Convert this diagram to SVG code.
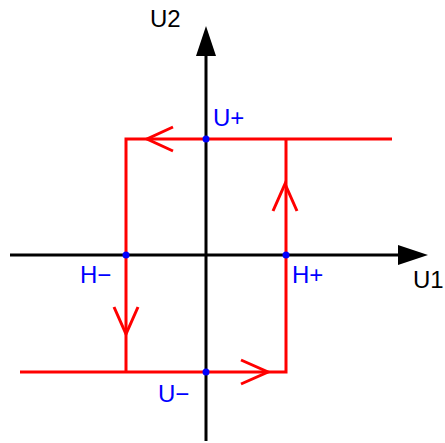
<svg xmlns="http://www.w3.org/2000/svg" width="445" height="443" viewBox="0 0 445 443">
<style>
.ax{stroke:#000;stroke-width:3;fill:none}
.rd{stroke:#ff0000;stroke-width:3;fill:none}
.lb{font-family:"Liberation Sans",Arial,sans-serif;font-size:24px}
.bl{fill:#0000ff}
.bk{fill:#000}
</style>
<rect width="445" height="443" fill="#fff"/>
<g id="connectors">
<line class="ax" x1="10" y1="255" x2="400" y2="255"/>
<polygon points="428,255 398,245 398,265" fill="#000"/>
<line class="ax" x1="206" y1="441" x2="206" y2="54"/>
<polygon points="206,26 196,56 216,56" fill="#000"/>
<polyline class="rd" points="392,139 126,139 126,372"/>
<polyline class="rd" points="20,372 286,372 286,139"/>
<polyline class="rd" points="173,127 147,139 173,151"/>
<polyline class="rd" points="241,360 268,372 241,384"/>
<polyline class="rd" points="273,211 285,184 297,211"/>
<polyline class="rd" points="114,307 126,334 138,307"/>
</g>
<g id="node-Uplus"><circle cx="206" cy="139" r="3.5" class="bl"/><text class="lb bl" x="213" y="126">U+</text></g>
<g id="node-Uminus"><circle cx="206" cy="372" r="3.5" class="bl"/><text class="lb bl" x="158" y="402">U−</text></g>
<g id="node-Hminus"><circle cx="126" cy="255" r="3.5" class="bl"/><text class="lb bl" x="80" y="283">H−</text></g>
<g id="node-Hplus"><circle cx="286" cy="255" r="3.5" class="bl"/><text class="lb bl" x="292" y="283">H+</text></g>
<g id="node-U2"><text class="lb bk" x="150" y="27">U2</text></g>
<g id="node-U1"><text class="lb bk" x="413" y="288">U1</text></g>
</svg>
